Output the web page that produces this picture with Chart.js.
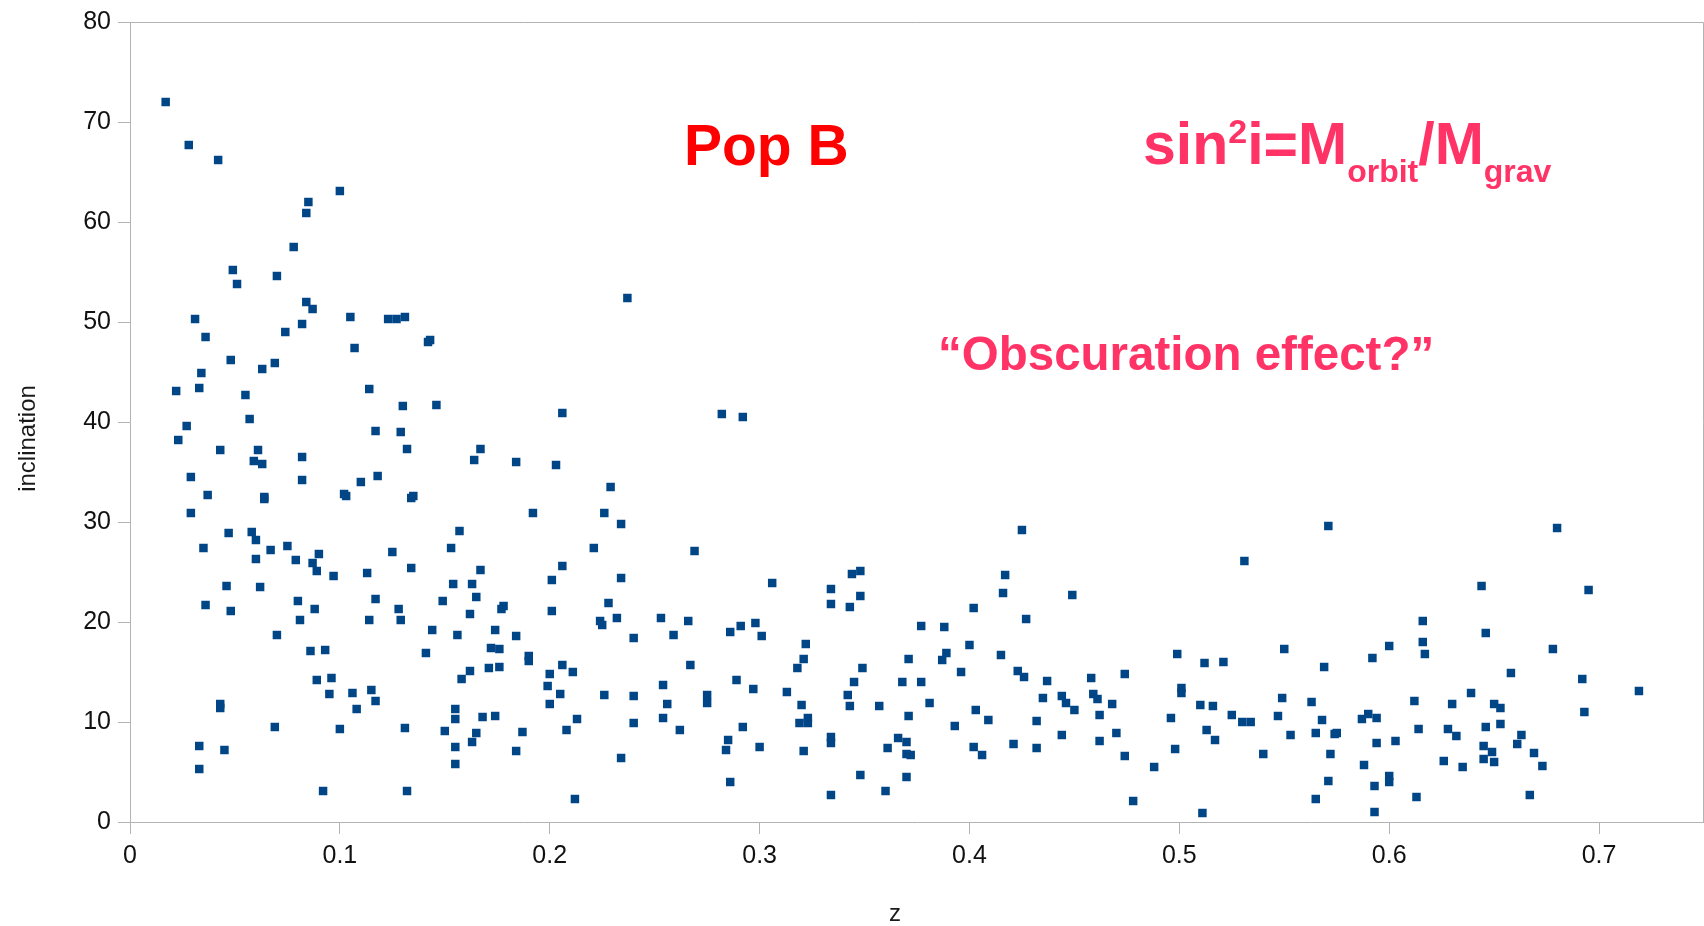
<!DOCTYPE html>
<html><head><meta charset="utf-8">
<script src="https://cdn.jsdelivr.net/npm/chart.js@4"></script>
<style>html,body{margin:0;padding:0;background:#fff}canvas{display:block}</style>
</head><body>
<canvas id="c" width="1704" height="926"></canvas>
<script>
// ---- data ----
const zValues = [
0.017,0.028,0.042,0.100,0.085,0.084,0.078,0.049,0.051,0.070,0.084,0.087,0.105,0.123,0.127,0.131,0.031,0.036,0.074,0.082,
0.107,0.048,0.069,0.063,0.034,0.022,0.033,0.055,0.114,0.130,0.057,0.027,0.023,0.117,0.129,0.132,0.043,0.061,0.059,0.063,
0.082,0.029,0.082,0.110,0.118,0.037,0.064,0.064,0.102,0.103,0.135,0.134,0.029,0.047,0.058,0.060,0.035,0.067,0.075,0.060,
0.079,0.087,0.089,0.090,0.097,0.113,0.125,0.134,
0.046,0.062,0.036,0.048,0.080,0.088,0.081,0.117,0.128,0.129,0.114,0.070,0.086,0.093,0.089,0.096,0.095,0.106,0.115,0.117,
0.108,0.043,0.043,0.069,0.100,0.131,0.033,0.045,0.033,0.092,0.132,
0.142,0.143,0.146,0.237,
0.206,0.167,0.164,0.184,0.203,0.229,0.192,0.226,0.234,0.157,0.153,0.221,0.269,0.167,0.206,0.154,0.163,0.201,0.234,0.149,
0.165,0.162,0.178,0.177,0.201,0.228,0.224,0.225,0.232,0.253,0.266,0.144,0.156,0.174,0.184,0.240,0.259,0.141,0.172,0.176,
0.190,0.190,0.162,0.171,0.176,0.158,0.206,0.211,0.200,0.199,0.205,0.200,0.226,0.240,0.254,0.256,0.267,0.275,0.275,0.155,
0.155,0.168,0.174,0.150,0.165,0.163,0.187,0.208,0.213,0.240,0.254,0.262,0.155,0.184,0.155,0.234,0.212,
0.282,0.292,0.425,0.344,0.348,0.306,0.334,0.417,0.416,0.348,0.334,0.343,0.402,0.427,0.377,0.388,0.286,0.291,0.298,0.301,
0.322,0.400,0.321,0.371,0.389,0.387,0.415,0.423,0.426,0.318,0.349,0.396,0.289,0.297,0.345,0.368,0.377,0.313,0.342,0.320,
0.343,0.357,0.381,0.371,0.403,0.409,0.292,0.323,0.323,0.319,0.393,0.285,0.284,0.300,0.321,0.334,0.334,0.366,0.370,0.361,
0.370,0.372,0.402,0.406,0.421,0.286,0.348,0.370,0.360,0.334,
0.571,0.531,0.449,0.499,0.550,0.512,0.521,0.569,0.437,0.458,0.474,0.501,0.501,0.435,0.444,0.446,0.450,0.459,0.461,0.468,
0.462,0.510,0.516,0.525,0.530,0.534,0.496,0.547,0.549,0.563,0.568,0.432,0.444,0.470,0.462,0.432,0.474,0.488,0.498,0.513,
0.517,0.553,0.540,0.565,0.574,0.575,0.572,0.571,0.565,0.478,0.511,
0.680,0.644,0.695,0.616,0.646,0.600,0.592,0.616,0.617,0.678,0.658,0.692,0.719,0.639,0.612,0.630,0.650,0.653,0.693,0.590,
0.587,0.594,0.614,0.628,0.632,0.646,0.653,0.663,0.661,0.594,0.603,0.645,0.649,0.645,0.650,0.669,0.673,0.626,0.635,0.588,
0.600,0.600,0.593,0.613,0.667,0.593
];
const inclinations = [
72.0,67.7,66.2,63.1,62.0,60.9,57.5,55.2,53.8,54.6,52.0,51.3,50.5,50.3,50.3,50.5,50.3,48.5,49.0,49.8,
47.4,46.2,45.9,45.3,44.9,43.1,43.4,42.7,43.3,41.6,40.3,39.6,38.2,39.1,39.0,37.3,37.2,37.2,36.1,35.8,
36.5,34.5,34.2,34.0,34.6,32.7,32.5,32.3,32.8,32.6,32.6,32.4,30.9,28.9,29.0,28.2,27.4,27.2,27.6,26.3,
26.2,25.9,25.1,26.8,24.6,24.9,27.0,25.4,
23.6,23.5,21.7,21.1,22.1,21.3,20.2,22.3,21.3,20.2,20.2,18.7,17.1,17.2,14.2,14.4,12.8,12.9,13.2,12.1,
11.3,11.8,11.4,9.5,9.3,9.4,7.6,7.2,5.3,3.1,3.1,
48.0,48.2,41.7,52.4,
40.9,37.3,36.2,36.0,35.7,33.5,30.9,30.9,29.8,29.1,27.4,27.4,27.1,25.2,25.6,23.8,23.8,24.2,24.4,22.1,
22.5,20.8,21.6,21.3,21.1,21.9,20.1,19.7,20.4,20.4,20.1,19.2,18.7,19.2,18.6,18.4,18.7,16.9,17.4,17.3,
16.6,16.1,15.1,15.4,15.5,14.3,15.7,15.0,14.8,13.6,12.8,11.8,12.7,12.6,13.7,11.8,15.7,12.7,11.9,11.3,
10.3,10.5,10.6,9.1,8.9,8.0,9.0,9.2,10.3,9.9,10.4,9.2,7.5,7.1,5.8,6.4,2.3,
40.8,40.5,29.2,24.8,25.1,23.9,23.3,24.7,22.9,22.6,21.8,21.5,21.4,20.3,19.6,19.5,19.0,19.6,19.9,18.6,
17.8,17.7,16.3,16.3,16.9,16.2,16.7,15.1,14.5,15.4,15.4,15.0,14.2,13.3,14.0,14.0,14.0,13.0,12.7,11.7,
11.6,11.6,11.9,10.6,11.2,10.2,9.5,10.4,9.9,9.9,9.6,8.2,7.2,7.5,7.1,8.5,7.9,8.4,8.0,7.4,
6.8,6.7,7.5,6.7,7.8,4.0,4.7,4.5,3.1,2.7,
29.6,26.1,22.7,16.8,17.3,15.9,16.0,15.5,14.1,14.4,14.8,13.4,12.9,12.4,12.6,11.9,11.2,12.8,12.3,11.8,
10.7,11.7,11.6,10.7,10.0,10.0,10.4,10.6,12.4,12.0,10.2,10.1,8.7,8.9,8.1,7.4,6.6,5.5,7.3,9.2,
8.2,8.7,6.8,8.9,8.8,8.9,6.8,4.1,2.3,2.1,0.9,
29.4,23.6,23.2,20.1,18.9,17.6,16.4,18.0,16.8,17.3,14.9,14.3,13.1,12.9,12.1,11.8,11.8,11.4,11.0,10.8,
10.3,10.4,9.3,9.3,8.6,9.5,9.8,8.7,7.8,7.9,8.1,7.6,7.0,6.3,6.0,6.9,5.6,6.1,5.5,5.7,
4.6,4.0,3.6,2.5,2.7,1.0
];
const xTickValues = [0, 0.1, 0.2, 0.3, 0.4, 0.5, 0.6, 0.7];
const yTickValues = [0, 10, 20, 30, 40, 50, 60, 70, 80];
const xAxisTitle = 'z';
const yAxisTitle = 'inclination';
const popLabel = 'Pop B';
const formulaParts = [
  {text: 'sin', role: 'main'}, {text: '2', role: 'sup'}, {text: 'i=M', role: 'main'},
  {text: 'orbit', role: 'sub'}, {text: '/M', role: 'main'}, {text: 'grav', role: 'sub'}
];
const noteLabel = '\u201CObscuration effect?\u201D';

// ---- drawing ----
const FONT = '"Liberation Sans", Arial, sans-serif';
Chart.defaults.font.family = FONT;

const overlay = {
  id: 'overlay',
  beforeDatasetsDraw(chart) {
    const ctx = chart.ctx, a = chart.chartArea;
    ctx.save();
    ctx.strokeStyle = '#b3b3b3'; ctx.lineWidth = 1;
    ctx.beginPath();
    ctx.moveTo(a.left, a.top + 0.5);
    ctx.lineTo(a.right - 0.5, a.top + 0.5);
    ctx.lineTo(a.right - 0.5, a.bottom);
    ctx.stroke();
    ctx.restore();
  },
  afterDraw(chart) {
    const ctx = chart.ctx;
    ctx.save();
    // axis titles
    ctx.fillStyle = '#1a1a1a';
    ctx.font = '24px ' + FONT;
    ctx.textAlign = 'center'; ctx.textBaseline = 'alphabetic';
    ctx.fillText(xAxisTitle, 895, 921);
    ctx.save();
    ctx.translate(35, 438.5); ctx.rotate(-Math.PI / 2);
    ctx.fillText(yAxisTitle, 0, 0);
    ctx.restore();
    // annotations
    ctx.textAlign = 'left';
    ctx.fillStyle = '#ff0000';
    ctx.font = 'bold 57px ' + FONT;
    ctx.fillText(popLabel, 684, 165);
    ctx.fillStyle = '#ff3366';
    const styles = {main: {size: 59, base: 163.5}, sup: {size: 34, base: 143}, sub: {size: 32, base: 182}};
    let x = 1143;
    formulaParts.forEach(p => {
      const s = styles[p.role];
      ctx.font = 'bold ' + s.size + 'px ' + FONT;
      ctx.fillText(p.text, x, s.base);
      x += ctx.measureText(p.text).width;
    });
    ctx.font = 'bold 47.5px ' + FONT;
    ctx.fillText(noteLabel, 938, 369.5);
    ctx.restore();
  }
};

const axisCommon = {
  grid: {drawOnChartArea: false, drawTicks: true, tickLength: 12, color: '#b3b3b3', lineWidth: 1},
  border: {display: true, color: '#b3b3b3', width: 1}
};

new Chart(document.getElementById('c'), {
  type: 'scatter',
  data: {
    datasets: [{
      data: zValues.map((z, i) => ({x: z, y: inclinations[i]})),
      backgroundColor: '#004586',
      borderColor: '#004586',
      borderWidth: 0,
      pointStyle: 'rect',
      pointRadius: 6,
      pointHoverRadius: 6
    }]
  },
  options: {
    responsive: false,
    animation: false,
    devicePixelRatio: 1,
    events: [],
    layout: {autoPadding: false, padding: {top: 20, right: 0, left: 0, bottom: 0}},
    plugins: {legend: {display: false}, tooltip: {enabled: false}},
    scales: {
      x: Object.assign({}, axisCommon, {
        type: 'linear', min: 0, max: 0.75,
        afterFit(s) { s.height = 104; },
        afterBuildTicks(s) { s.ticks = xTickValues.map(v => ({value: v})); },
        ticks: {
          font: {size: 25, family: FONT}, color: '#111', padding: 7, maxRotation: 0,
          callback: v => (v === 0 ? '0' : (+v).toFixed(1))
        }
      }),
      y: Object.assign({}, axisCommon, {
        type: 'linear', min: 0, max: 80,
        afterFit(s) { s.width = 130; },
        afterBuildTicks(s) { s.ticks = yTickValues.map(v => ({value: v})); },
        ticks: {font: {size: 25, family: FONT}, color: '#111', padding: 7}
      })
    }
  },
  plugins: [overlay]
});
</script>
</body></html>
